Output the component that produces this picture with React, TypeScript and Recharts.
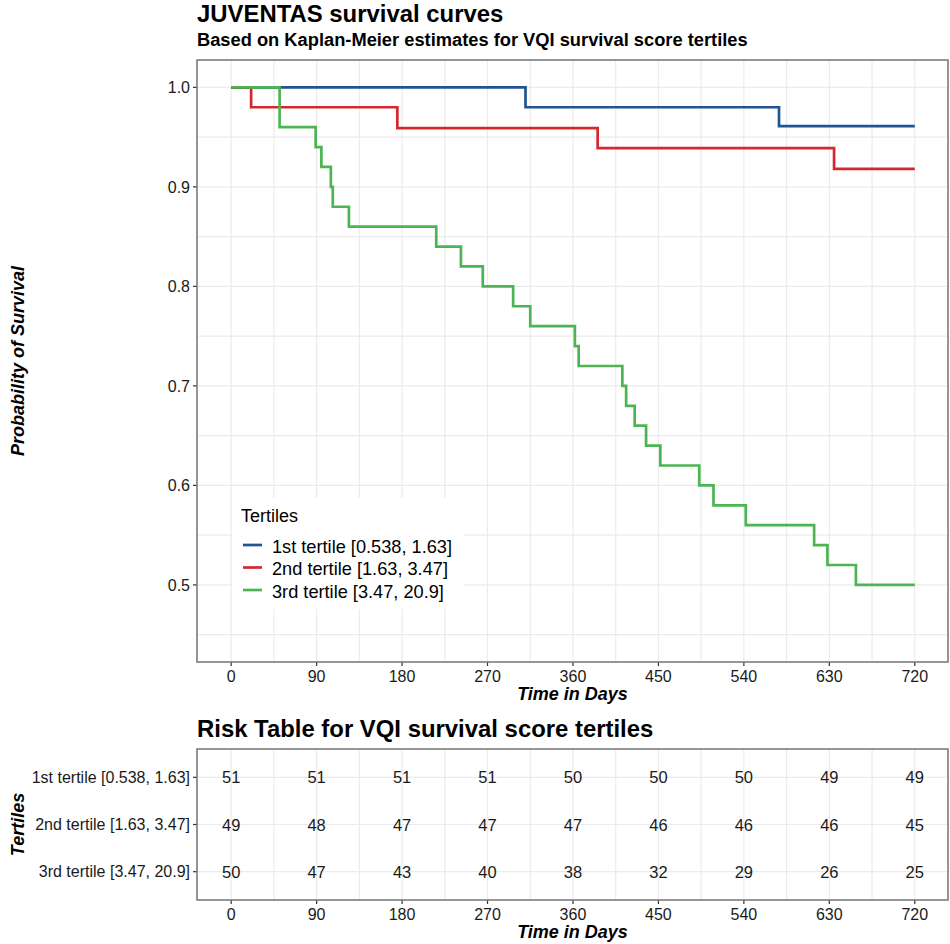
import React from "react";
import { LineChart, Line, ScatterChart, Scatter, XAxis, YAxis, CartesianGrid } from "recharts";

const FONT = '"Liberation Sans", Arial, Helvetica, sans-serif';

// Kaplan-Meier steps: day of drop and survival after it
const tert1Days = [0, 310, 577, 720];
const tert1Surv = [1, 0.98, 0.961, 0.961];
const tert2Days = [0, 21, 175, 386, 635, 720];
const tert2Surv = [1, 0.98, 0.959, 0.939, 0.918, 0.918];
const tert3Days = [0, 51, 89, 95, 105, 107, 124, 216, 242, 265, 297, 315, 362, 366, 412, 416, 425, 437, 452, 493, 508, 542, 614, 628, 658, 720];
const tert3Surv = [1, 0.96, 0.94, 0.92, 0.9, 0.88, 0.86, 0.84, 0.82, 0.8, 0.78, 0.76, 0.74, 0.72, 0.7, 0.68, 0.66, 0.64, 0.62, 0.6, 0.58, 0.56, 0.54, 0.52, 0.5, 0.5];

const groupNames = ["1st tertile [0.538, 1.63]", "2nd tertile [1.63, 3.47]", "3rd tertile [3.47, 20.9]"];
const groupColors = ["#1f5591", "#d3282e", "#4cb553"];

// axis ticks (majors get labels, the rest only gridlines)
const dayTicks = [0, 45, 90, 135, 180, 225, 270, 315, 360, 405, 450, 495, 540, 585, 630, 675, 720];
const survTicks = [0.45, 0.5, 0.55, 0.6, 0.65, 0.7, 0.75, 0.8, 0.85, 0.9, 0.95, 1.0];

// numbers at risk
const riskDays = [0, 90, 180, 270, 360, 450, 540, 630, 720];
const risk1 = [51, 51, 51, 51, 50, 50, 50, 49, 49];
const risk2 = [49, 48, 47, 47, 47, 46, 46, 46, 45];
const risk3 = [50, 47, 43, 40, 38, 32, 29, 26, 25];

const curves = [
  { days: tert1Days, surv: tert1Surv },
  { days: tert2Days, surv: tert2Surv },
  { days: tert3Days, surv: tert3Surv },
].map((c) => c.days.map((t, i) => ({ t, s: c.surv[i] })));

const riskRows = [risk1, risk2, risk3].map((r, k) =>
  riskDays.map((t, i) => ({ t, row: k + 1, n: r[i] }))
);

const DAY_DOMAIN: [number, number] = [-36, 755];

const XTick = ({ x, y, payload }: any) => {
  if (payload.value % 90 !== 0) return <g />;
  return (
    <g>
      <line x1={x} x2={x} y1={y - 8} y2={y - 4} stroke="#333" strokeWidth={1.2} />
      <text x={x} y={y + 11.5} textAnchor="middle" fontSize={16} fill="#1a1a1a" fontFamily={FONT}>
        {payload.value}
      </text>
    </g>
  );
};

const YTick = ({ x, y, payload }: any) => {
  if (Math.round(payload.value * 100) % 10 !== 0) return <g />;
  return (
    <g>
      <line x1={x + 3} x2={x + 7} y1={y} y2={y} stroke="#333" strokeWidth={1.2} />
      <text x={x} y={y + 5.7} textAnchor="end" fontSize={16} fill="#1a1a1a" fontFamily={FONT}>
        {payload.value.toFixed(1)}
      </text>
    </g>
  );
};

const RowTick = ({ x, y, payload }: any) => (
  <g>
    <line x1={x + 3} x2={x + 7} y1={y} y2={y} stroke="#333" strokeWidth={1.2} />
    <text x={x} y={y + 5.5} textAnchor="end" fontSize={16} fill="#1a1a1a" fontFamily={FONT}>
      {groupNames[payload.value - 1]}
    </text>
  </g>
);

const RiskCell = (p: any) => (
  <text x={p.cx} y={p.cy + 6} textAnchor="middle" fontSize={16.5} fill="#1a1a1a" fontFamily={FONT}>
    {p.payload.n}
  </text>
);

export default function App() {
  return (
    <div style={{ position: "absolute", left: 0, top: 0, width: 950, height: 944, background: "#fff" }}>
      <div style={{ position: "absolute", left: 0, top: 0 }}>
        <LineChart width={950} height={700} margin={{ top: 60, right: 2, bottom: 8, left: 137 }}>
          <CartesianGrid stroke="#ebebeb" strokeWidth={1.2} />
          <XAxis
            type="number"
            dataKey="t"
            domain={DAY_DOMAIN}
            ticks={dayTicks}
            interval={0}
            tick={<XTick />}
            tickSize={0}
            tickMargin={8}
            axisLine={false}
            tickLine={false}
            height={30}
            allowDataOverflow
          />
          <YAxis
            type="number"
            domain={[0.4225, 1.0275]}
            ticks={survTicks}
            interval={0}
            tick={<YTick />}
            tickSize={0}
            tickMargin={7}
            axisLine={false}
            tickLine={false}
            width={60}
            allowDataOverflow
          />
          {curves.map((pts, i) => (
            <Line
              key={groupNames[i]}
              data={pts}
              dataKey="s"
              type="stepAfter"
              stroke={groupColors[i]}
              strokeWidth={2.7}
              dot={false}
              activeDot={false}
              isAnimationActive={false}
            />
          ))}
        </LineChart>
      </div>

      <div style={{ position: "absolute", left: 0, top: 700 }}>
        <ScatterChart width={950} height={244} margin={{ top: 49, right: 2, bottom: 14, left: 7 }}>
          <CartesianGrid stroke="#ebebeb" strokeWidth={1.2} />
          <XAxis
            type="number"
            dataKey="t"
            domain={DAY_DOMAIN}
            ticks={dayTicks}
            interval={0}
            tick={<XTick />}
            tickSize={0}
            tickMargin={8}
            axisLine={false}
            tickLine={false}
            height={30}
            allowDataOverflow
          />
          <YAxis
            type="number"
            dataKey="row"
            domain={[0.4, 3.6]}
            ticks={[1, 2, 3]}
            interval={0}
            reversed
            tick={<RowTick />}
            tickSize={0}
            tickMargin={7}
            axisLine={false}
            tickLine={false}
            width={190}
          />
          {riskRows.map((rows, i) => (
            <Scatter key={groupNames[i]} data={rows} shape={RiskCell} isAnimationActive={false} />
          ))}
        </ScatterChart>
      </div>

      <svg
        width={950}
        height={944}
        style={{ position: "absolute", left: 0, top: 0, pointerEvents: "none" }}
        fontFamily={FONT}
      >
        <text x={197} y={22} fontSize={23.9} fontWeight="bold" fill="#000">JUVENTAS survival curves</text>
        <text x={197} y={46} fontSize={18.3} fontWeight="bold" fill="#000">
          Based on Kaplan-Meier estimates for VQI survival score tertiles
        </text>
        <text
          transform="translate(24,361) rotate(-90)"
          textAnchor="middle"
          fontSize={18}
          fontWeight="bold"
          fontStyle="italic"
          fill="#000"
        >
          Probability of Survival
        </text>
        <text x={572.5} y={700} textAnchor="middle" fontSize={18} fontWeight="bold" fontStyle="italic" fill="#000">
          Time in Days
        </text>
        <rect x={197} y={60} width={751} height={602} fill="none" stroke="#777" strokeWidth={1.5} />

        <rect x={232} y={498} width={232} height={111} fill="#fff" />
        <text x={241} y={522} fontSize={18} fill="#000">Tertiles</text>
        {groupNames.map((name, i) => (
          <g key={name}>
            <line x1={243} x2={262} y1={545 + i * 22.5} y2={545 + i * 22.5} stroke={groupColors[i]} strokeWidth={2.7} />
            <text x={272} y={552.5 + i * 22.5} fontSize={18.2} fill="#000">{name}</text>
          </g>
        ))}

        <text x={197} y={737} fontSize={23.9} fontWeight="bold" fill="#000">
          Risk Table for VQI survival score tertiles
        </text>
        <text
          transform="translate(24,824.5) rotate(-90)"
          textAnchor="middle"
          fontSize={18}
          fontWeight="bold"
          fontStyle="italic"
          fill="#000"
        >
          Tertiles
        </text>
        <text x={572.5} y={938} textAnchor="middle" fontSize={18} fontWeight="bold" fontStyle="italic" fill="#000">
          Time in Days
        </text>
        <rect x={197} y={749} width={751} height={151} fill="none" stroke="#777" strokeWidth={1.5} />
      </svg>
    </div>
  );
}
